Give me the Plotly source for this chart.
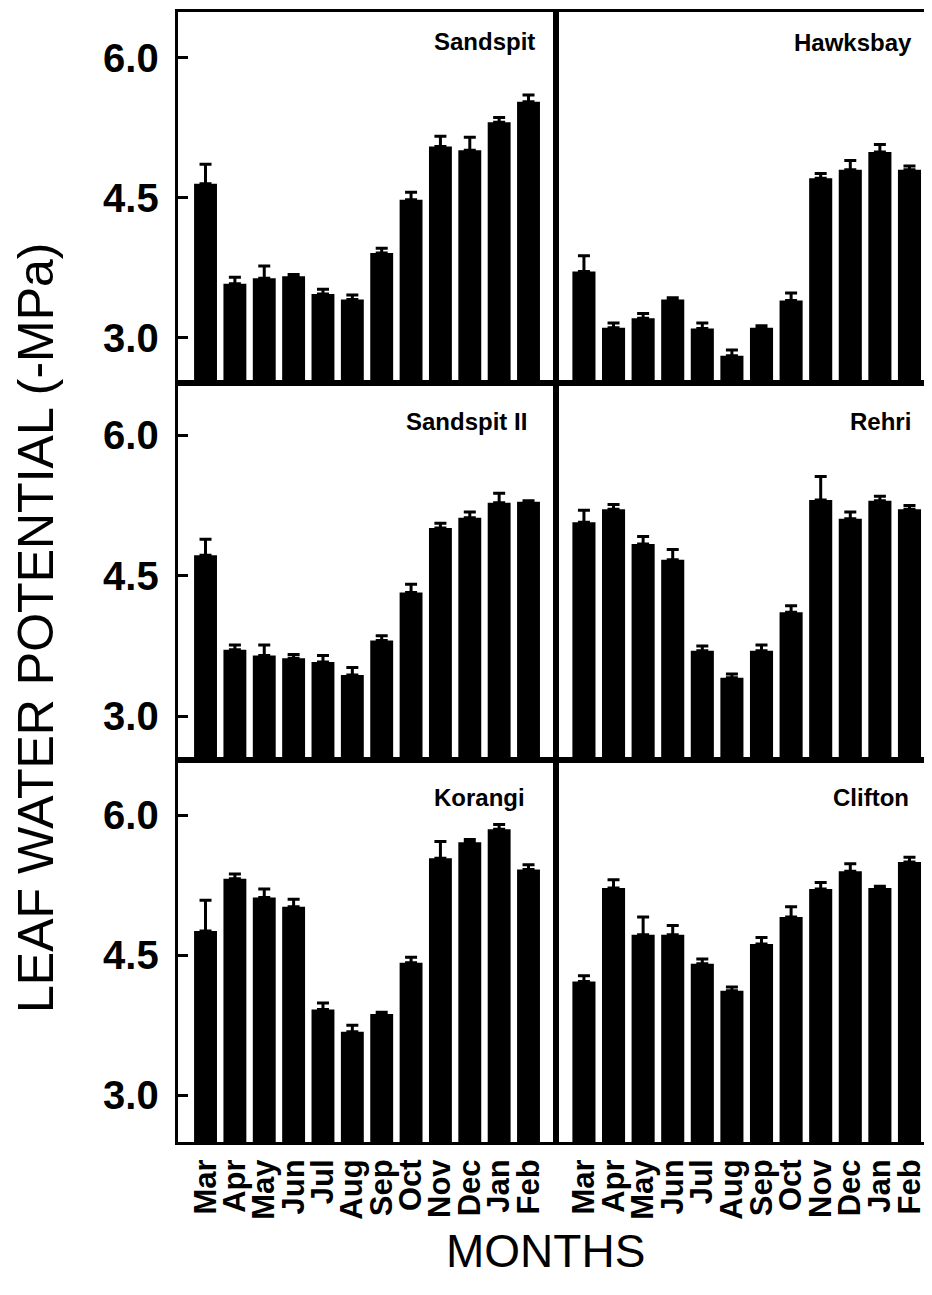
import plotly.graph_objects as go

months = ["Mar", "Apr", "May", "Jun", "Jul", "Aug", "Sep", "Oct", "Nov", "Dec", "Jan", "Feb"]
sites = ["Sandspit", "Hawksbay", "Sandspit II", "Rehri", "Korangi", "Clifton"]

sandspit = [4.65, 3.58, 3.64, 3.66, 3.47, 3.41, 3.91, 4.48, 5.05, 5.01, 5.31, 5.53]
sandspit_err = [0.21, 0.07, 0.13, 0.02, 0.05, 0.05, 0.05, 0.08, 0.11, 0.14, 0.05, 0.07]
hawksbay = [3.71, 3.11, 3.21, 3.41, 3.10, 2.81, 3.11, 3.40, 4.71, 4.80, 4.99, 4.80]
hawksbay_err = [0.17, 0.05, 0.05, 0.02, 0.06, 0.06, 0.02, 0.08, 0.05, 0.10, 0.08, 0.04]
sandspit2 = [4.72, 3.71, 3.65, 3.62, 3.58, 3.44, 3.81, 4.32, 5.01, 5.12, 5.28, 5.29]
sandspit2_err = [0.17, 0.05, 0.11, 0.04, 0.07, 0.08, 0.05, 0.09, 0.05, 0.06, 0.10, 0.01]
rehri = [5.07, 5.21, 4.84, 4.67, 3.70, 3.41, 3.70, 4.11, 5.31, 5.11, 5.30, 5.21]
rehri_err = [0.13, 0.05, 0.08, 0.11, 0.05, 0.04, 0.06, 0.07, 0.25, 0.07, 0.05, 0.04]
korangi = [4.76, 5.32, 5.12, 5.02, 3.92, 3.68, 3.87, 4.42, 5.54, 5.71, 5.85, 5.42]
korangi_err = [0.33, 0.05, 0.09, 0.08, 0.07, 0.07, 0.02, 0.06, 0.18, 0.03, 0.05, 0.05]
clifton = [4.22, 5.22, 4.72, 4.72, 4.41, 4.12, 4.62, 4.91, 5.21, 5.40, 5.22, 5.50]
clifton_err = [0.06, 0.09, 0.19, 0.10, 0.05, 0.04, 0.07, 0.11, 0.07, 0.08, 0.02, 0.05]

y_ticks = [3.0, 4.5, 6.0]
y_ticktext = ["3.0", "4.5", "6.0"]

series = [sandspit, hawksbay, sandspit2, rehri, korangi, clifton]
errors = [sandspit_err, hawksbay_err, sandspit2_err, rehri_err, korangi_err, clifton_err]

W, H = 932, 1295
FONT = "Liberation Sans, Arial, Helvetica, sans-serif"

# layout geometry in pixels
col_px = [(170, 549), (549, 931)]
row_px = [(4, 375), (375, 752), (752, 1134)]
row_ranges = [[2.517, 6.49], [2.533, 6.558], [2.50, 6.592]]
label_pos = [(530, 34), (908, 35), (522, 413), (907, 413), (520, 789), (905, 789)]

fig = go.Figure()
layout = {}
annotations = []
for i in range(6):
    r, c = divmod(i, 2)
    k = i + 1
    xa = "x" if k == 1 else f"x{k}"
    ya = "y" if k == 1 else f"y{k}"
    fig.add_trace(go.Bar(
        x=months, y=series[i], xaxis=xa, yaxis=ya,
        marker=dict(color="black", line=dict(width=0)),
        error_y=dict(type="data", symmetric=False, array=errors[i],
                     arrayminus=[0] * len(errors[i]),
                     color="black", thickness=3, width=6),
        showlegend=False,
    ))
    x0, x1 = col_px[c]
    y0, y1 = row_px[r]
    xkey = "xaxis" if k == 1 else f"xaxis{k}"
    ykey = "yaxis" if k == 1 else f"yaxis{k}"
    layout[xkey] = dict(
        domain=[x0 / W, x1 / W], anchor=ya, type="category",
        categoryorder="array", categoryarray=months,
        range=[-0.95, 11.93],
        showline=True, linewidth=3, linecolor="black", mirror=True,
        showgrid=False, zeroline=False, ticks="",
        tickmode="array", tickvals=months, ticktext=months,
        showticklabels=(r == 2), tickangle=-90,
        tickfont=dict(family=FONT, size=31, color="black", weight="bold"),
        ticklabelstandoff=2,
    )
    layout[ykey] = dict(
        domain=[1 - y1 / H, 1 - y0 / H], anchor=xa,
        range=row_ranges[r],
        showline=True, linewidth=3, linecolor="black", mirror=True,
        showgrid=False, zeroline=False,
        tickmode="array", tickvals=y_ticks, ticktext=y_ticktext,
        ticks="inside" if c == 0 else "", ticklen=10, tickwidth=3, tickcolor="black",
        showticklabels=(c == 0),
        tickfont=dict(family=FONT, size=40, color="black", weight="bold"),
        ticklabelstandoff=8,
    )
    lx, ly = label_pos[i]
    annotations.append(dict(
        text=sites[i], xref="paper", yref="paper",
        x=lx / W, y=1 - ly / H, xanchor="right", yanchor="middle",
        showarrow=False,
        font=dict(family=FONT, size=24, color="black", weight="bold"),
    ))

annotations.append(dict(
    text="MONTHS", xref="paper", yref="paper", x=539 / W, y=1 - 1243 / H,
    xanchor="center", yanchor="middle", showarrow=False,
    font=dict(family=FONT, size=46, color="black"),
))
annotations.append(dict(
    text="LEAF WATER POTENTIAL (-MPa)", xref="paper", yref="paper",
    x=28 / W, y=1 - 620 / H, xanchor="center", yanchor="middle",
    textangle=-90, showarrow=False,
    font=dict(family=FONT, size=50, color="black"),
))

fig.update_layout(
    width=W, height=H,
    margin=dict(l=0, r=0, t=0, b=0),
    paper_bgcolor="white", plot_bgcolor="white",
    bargap=0.22,
    annotations=annotations,
    **layout,
)

fig.write_html("out.html")
